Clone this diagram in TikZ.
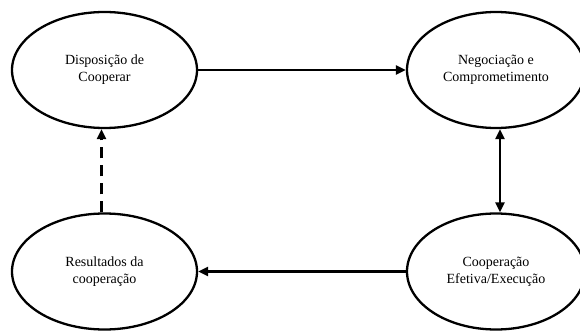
\documentclass[tikz,border=0pt]{standalone}
\usepackage{fontspec}
\setmainfont{Liberation Serif}
\usetikzlibrary{positioning}
\usetikzlibrary{shapes.geometric}
\usetikzlibrary{arrows.meta}
\newcommand{\widthphase}{185pt}
\newcommand{\heightphase}{116pt}
\tikzset{
    phase/.style={draw, ellipse, line width=2.3pt, inner sep=0pt, align=center,
        minimum width=\widthphase, minimum height=\heightphase,
        font=\fontsize{14}{17}\selectfont},
    flow/.style={line width=2.3pt, -{Triangle[length=10pt, width=9pt]}},
    both/.style={flow, {Triangle[length=10pt, width=9pt]}-{Triangle[length=10pt, width=9pt]}},
    feedback/.style={flow, dash pattern=on 11pt off 7pt},
}

\begin{document}
\begin{tikzpicture}[x=1pt, y=1pt]
    \useasboundingbox (0,0) rectangle (580,-331);

    \node[phase] (disp) at (104.5,-70) {Disposição de\\Cooperar};
    \node[phase, minimum width=178pt] (neg) at (496,-70) {Negociação e\\Comprometimento};
    \node[phase, minimum width=178pt] (exec) at (496,-271.5) {Cooperação\\Efetiva/Execução};
    \node[phase] (res) at (104.5,-271.5) {Resultados da\\cooperação};

    \draw[flow] (disp) -- (neg);
    \draw[both] ([xshift=4pt]neg.south) -- ([xshift=4pt]exec.north);
    \draw[flow] (exec) -- (res);
    \draw[feedback] ([xshift=-3pt]res.north) -- ([xshift=-3pt]disp.south);

\end{tikzpicture}
\end{document}
